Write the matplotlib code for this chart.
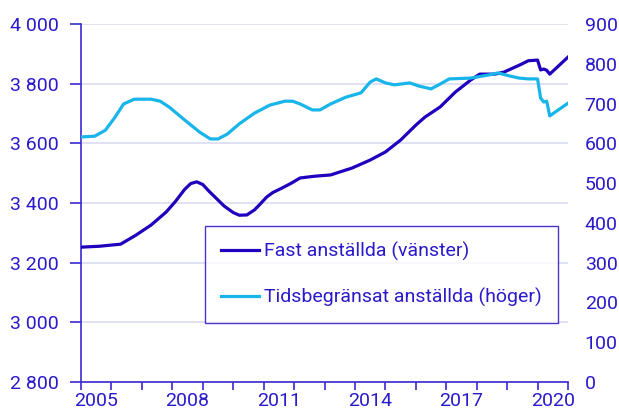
import matplotlib.pyplot as plt
from matplotlib.ticker import FuncFormatter, FixedLocator

plt.rcParams['font.family'] = ['Roboto', 'DejaVu Sans']

# Fast anställda (vänster axel), tusental
fast_x = [2005.0, 2005.6, 2006.3, 2006.8, 2007.3, 2007.8, 2008.1, 2008.4, 2008.6,
          2008.8, 2009.0, 2009.2, 2009.5, 2009.7, 2010.0, 2010.2, 2010.45, 2010.7,
          2010.9, 2011.1, 2011.3, 2011.6, 2011.9, 2012.2, 2012.7, 2013.2, 2013.5,
          2013.9, 2014.5, 2015.0, 2015.5, 2016.0, 2016.3, 2016.8, 2017.3, 2017.8,
          2018.1, 2018.6, 2018.9, 2019.4, 2019.7, 2020.0, 2020.1, 2020.2, 2020.3,
          2020.4, 2021.0]
fast_y = [3252, 3255, 3262, 3292, 3326, 3370, 3405, 3445, 3465,
          3471, 3462, 3440, 3410, 3390, 3368, 3359, 3360, 3377,
          3398, 3420, 3435, 3450, 3466, 3484, 3490, 3494, 3504,
          3517, 3544, 3571, 3611, 3661, 3688, 3722, 3772, 3812,
          3832, 3832, 3839, 3862, 3877, 3879, 3846, 3849, 3845,
          3832, 3889]

# Tidsbegränsat anställda (höger axel), tusental
tids_x = [2005.0, 2005.45, 2005.8, 2006.1, 2006.4, 2006.75, 2007.3, 2007.6, 2007.9,
          2008.4, 2008.9, 2009.25, 2009.5, 2009.8, 2010.2, 2010.7, 2011.2, 2011.7,
          2011.95, 2012.2, 2012.6, 2012.85, 2013.2, 2013.7, 2014.2, 2014.5, 2014.7,
          2015.0, 2015.3, 2015.8, 2016.1, 2016.5, 2016.8, 2017.1, 2017.8, 2018.4,
          2018.7, 2019.1, 2019.4, 2019.7, 2020.0, 2020.1, 2020.2, 2020.3, 2020.4,
          2021.0]
tids_y = [616, 618, 633, 664, 699, 711, 711, 706, 691,
          659, 628, 611, 611, 623, 649, 676, 696, 706,
          706, 699, 684, 684, 699, 716, 727, 754, 762,
          752, 747, 752, 744, 737, 749, 762, 764, 772,
          777, 769, 764, 762, 762, 714, 704, 706, 669,
          701]

years = list(range(2005, 2022))
label_years = [2005, 2008, 2011, 2014, 2017, 2020]

text_col = '#2a1acb'
axis_col = '#3a2ad0'
fast_col = '#1e00be'
tids_col = '#18b5ea'

fig = plt.figure(figsize=(6.19, 4.19), dpi=100)
ax = fig.add_axes([0.1309, 0.0883, 0.7867, 0.8544])
ax2 = ax.twinx()

l1, = ax.plot(fast_x, fast_y, color=fast_col, linewidth=2.3, label='Fast anställda (vänster)',
              zorder=3, solid_joinstyle='round')
l2, = ax2.plot(tids_x, tids_y, color=tids_col, linewidth=2.3, label='Tidsbegränsat anställda (höger)',
               zorder=2, solid_joinstyle='round')

ax.set_xlim(2005, 2021)
ax.set_ylim(2800, 4000)
ax2.set_ylim(0, 900)
ax.set_yticks(range(2800, 4001, 200))
ax2.set_yticks(range(0, 901, 100))
ax.yaxis.set_major_formatter(FuncFormatter(lambda v, p: f'{int(v):,}'.replace(',', ' ')))

# årsmarkeringar som streck, etiketter mitt i året
ax.xaxis.set_major_locator(FixedLocator(years))
ax.xaxis.set_major_formatter(FuncFormatter(lambda v, p: ''))
ax.xaxis.set_minor_locator(FixedLocator([y + 0.5 for y in label_years]))
ax.xaxis.set_minor_formatter(FuncFormatter(lambda v, p: str(int(v))))
ax.tick_params(axis='x', which='minor', length=0, pad=7, labelsize=14, labelcolor=text_col)
ax.tick_params(axis='x', which='major', length=6, width=1.2, color=axis_col)
ax.tick_params(axis='y', length=8, width=1.2, color=axis_col, labelsize=14, labelcolor=text_col, pad=8)
ax2.tick_params(axis='y', length=0, labelsize=14, labelcolor=text_col, pad=12)

ax.grid(axis='y', color='#dcdcf2', linewidth=1.2, zorder=0)
for a in (ax, ax2):
    for s in ('top', 'right'):
        a.spines[s].set_visible(False)
ax2.spines['left'].set_visible(False)
ax2.spines['bottom'].set_visible(False)
ax.spines['left'].set_color(axis_col)
ax.spines['bottom'].set_color(axis_col)
ax.spines['left'].set_linewidth(1.2)
ax.spines['bottom'].set_linewidth(1.2)

leg = ax2.legend(handles=[l1, l2], loc='lower left', bbox_to_anchor=(0.2546, 0.165),
                 borderaxespad=0, fontsize=14, frameon=True, fancybox=False, handlelength=2.0,
                 handletextpad=0.25, labelspacing=1.4, borderpad=0.8, labelcolor=text_col)
leg.get_frame().set_edgecolor(fast_col)
leg.get_frame().set_linewidth(1.0)

fig.savefig('out.png', dpi=100)
